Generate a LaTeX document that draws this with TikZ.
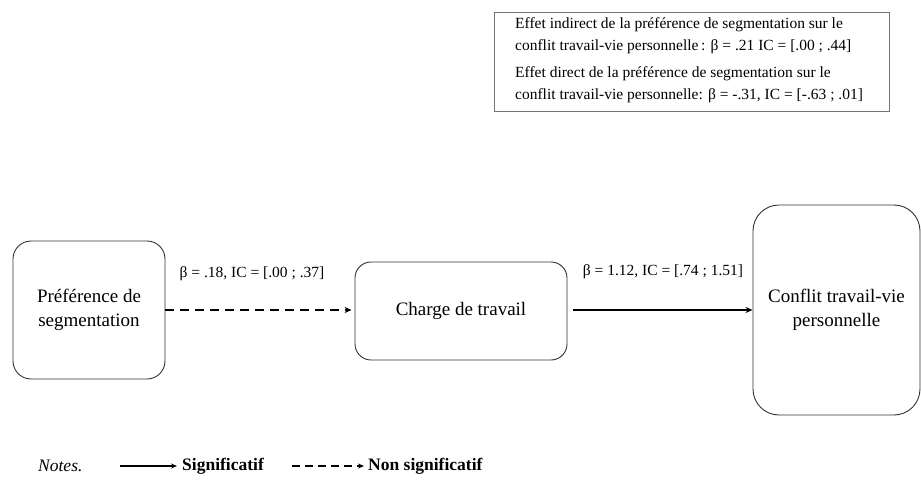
\documentclass[tikz,border=0pt]{standalone}
\usepackage{fontspec}
\setmainfont{Liberation Serif}
\usetikzlibrary{arrows.meta}
\begin{document}
\begin{tikzpicture}[x=1pt,y=-1pt,
  rbox/.style={draw=black!80, line width=0.9pt, rounded corners=#1, inner sep=0pt, align=center, font=\fontsize{19}{24}\selectfont},
  lbl/.style={inner sep=0pt, font=\fontsize{15.5}{18}\selectfont},
  sig/.style={line width=1.8pt, -{Stealth[length=7pt,width=6pt]}},
  nonsig/.style={line width=1.8pt, dash pattern=on 9pt off 6pt, -{Stealth[length=7pt,width=6pt]}},
  leg/.style={inner sep=0pt, anchor=west, font=\fontsize{17.5}{20}\selectfont\bfseries}
]
\useasboundingbox (0,0) rectangle (921,484);
% top box
\node[draw=black!55, line width=0.8pt, minimum width=395pt, minimum height=99pt, inner sep=0pt, anchor=north west] (eff) at (494,12) {};
\node[anchor=north west, inner sep=0pt, align=left, font=\fontsize{15.5}{22}\selectfont] (efftext) at (515,17)
  {Effet indirect de la préférence de segmentation sur le\\
   conflit travail-vie personnelle\,: β = .21 IC = [.00 ; .44]\\[5pt]
   Effet direct de la préférence de segmentation sur le\\
   conflit travail-vie personnelle: β = -.31, IC = [-.63 ; .01]};
% main boxes
\node[rbox=18pt, minimum width=152pt, minimum height=138pt] (pref) at (89,310) {Préférence de\\segmentation};
\node[rbox=16pt, minimum width=212pt, minimum height=98pt] (charge) at (461,311) {Charge de travail};
\node[rbox=26pt, minimum width=167pt, minimum height=210pt] (conf) at (836.5,310) {Conflit travail-vie\\personnelle};
% arrows
\draw[nonsig, shorten >=3pt] (pref.east |- 0,310) -- (charge.west |- 0,310);
\draw[sig, shorten <=6pt] (charge.east |- 0,310) -- (conf.west |- 0,310);
\node[lbl] (l1) at (252,274) {β = .18, IC = [.00 ; .37]};
\node[lbl] (l2) at (663,272) {β = 1.12, IC = [.74 ; 1.51]};
% legend
\node[inner sep=0pt, anchor=west, font=\fontsize{17.5}{20}\selectfont\itshape] (notes) at (38,466) {Notes.};
\coordinate (s1) at (120,466);
\coordinate (s2) at (177,466);
\draw[line width=1.5pt, -{Stealth[length=6pt,width=5pt]}] (s1) -- (s2);
\node[leg] (sigt) at (182,466) {Significatif};
\coordinate (d1) at (292,466);
\coordinate (d2) at (364,466);
\draw[line width=1.5pt, dash pattern=on 8pt off 5pt, -{Stealth[length=6pt,width=5pt]}] (d1) -- (d2);
\node[leg] (nsigt) at (368,466) {Non significatif};
\end{tikzpicture}
\end{document}
